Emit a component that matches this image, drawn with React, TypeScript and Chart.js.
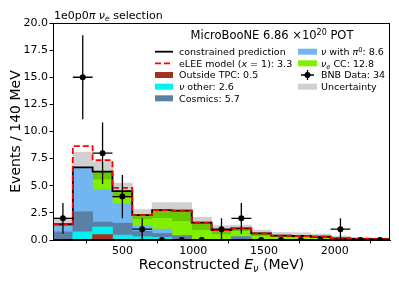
import React, { useEffect, useRef } from "react";
import { Chart, registerables } from "chart.js";
Chart.register(...registerables);

// ---------- data ----------
const binEdges = [10, 150, 290, 430, 570, 710, 850, 990, 1130, 1270, 1410, 1550, 1690, 1830, 1970, 2110, 2250, 2390];
const outsideTPC = [0, 0, 0.5, 0, 0, 0, 0, 0, 0, 0, 0, 0, 0, 0, 0, 0, 0];
const nuOther = [0, 0.75, 0.7, 0.45, 0.3, 0.25, 0, 0, 0, 0, 0, 0, 0, 0, 0, 0, 0];
const cosmics = [0.75, 1.85, 0.45, 1.1, 0.5, 0.35, 0.4, 0, 0, 0.3, 0, 0, 0, 0, 0, 0, 0];
const nuPi0 = [0.5, 4.1, 3.0, 1.8, 0.5, 0.4, 0, 0, 0, 0, 0, 0, 0, 0, 0, 0, 0];
const nueCCLow = [0, 0, 0.9, 0.5, 0.6, 1.0, 1.3, 0.9, 0.5, 0.5, 0.35, 0.25, 0.22, 0.18, 0.09, 0.06, 0.05];
const nueCCHigh = [0.1, 0, 0.75, 0.65, 0.4, 0.75, 1.0, 0.7, 0.42, 0.27, 0.26, 0.15, 0.15, 0.12, 0.06, 0.04, 0.03];
const constrainedPred = [1.45, 6.7, 6.3, 4.5, 2.3, 2.75, 2.7, 1.6, 0.92, 1.07, 0.61, 0.4, 0.37, 0.3, 0.15, 0.1, 0.08];
const eLEE = [0, 1.96, 1.05, 0.3, 0, 0, 0, 0, 0, 0, 0, 0, 0, 0, 0, 0, 0];
const uncertainty = [0.6, 1.4, 0.9, 0.75, 0.5, 0.7, 0.75, 0.5, 0.4, 0.3, 0.3, 0.3, 0.3, 0.25, 0.22, 0.15, 0.1];
const bnbData = [2, 15, 8, 4, 1, 0, 0, 0, 1, 2, 0, 0, 0, 0, 1, 0, 0];
const xTicks = [500, 1000, 1500, 2000];
const yTicks = [0, 2.5, 5, 7.5, 10, 12.5, 15, 17.5, 20];

const COLORS = {
  outside: "#a3331f",
  other: "#00f2f2",
  cosmic: "#5b80a5",
  pi0: "#72b5f3",
  nueLow: "#80f000",
  nueHigh: "#66c800",
  unc: "#d0d0d0",
};

const FAM = '"DejaVu Sans", sans-serif';

type Part = { t: string; it?: boolean; sub?: boolean; sup?: boolean };

function richWidth(ctx: CanvasRenderingContext2D, parts: Part[], size: number) {
  let w = 0;
  for (const p of parts) {
    const s = p.sub || p.sup ? size * 0.7 : size;
    ctx.font = `${p.it ? "italic " : ""}${s}px ${FAM}`;
    w += ctx.measureText(p.t).width;
  }
  return w;
}

function drawRich(ctx: CanvasRenderingContext2D, parts: Part[], x: number, y: number, size: number, align: "left" | "center") {
  const w = richWidth(ctx, parts, size);
  let cx = align === "center" ? x - w / 2 : x;
  ctx.textAlign = "left";
  ctx.textBaseline = "alphabetic";
  for (const p of parts) {
    const s = p.sub || p.sup ? size * 0.7 : size;
    ctx.font = `${p.it ? "italic " : ""}${s}px ${FAM}`;
    const dy = p.sub ? size * 0.2 : p.sup ? -size * 0.38 : 0;
    ctx.fillText(p.t, cx, y + dy);
    cx += ctx.measureText(p.t).width;
  }
}

export default function App() {
  const ref = useRef<HTMLCanvasElement | null>(null);

  useEffect(() => {
    const canvas = ref.current;
    if (!canvas) return;
    const n = bnbData.length;
    const centers = bnbData.map((_, i) => (binEdges[i] + binEdges[i + 1]) / 2);

    const comps = [
      { label: "Outside TPC", vals: outsideTPC, color: COLORS.outside },
      { label: "nu other", vals: nuOther, color: COLORS.other },
      { label: "Cosmics", vals: cosmics, color: COLORS.cosmic },
      { label: "nu pi0", vals: nuPi0, color: COLORS.pi0 },
      { label: "nue CC low", vals: nueCCLow, color: COLORS.nueLow },
      { label: "nue CC high", vals: nueCCHigh, color: COLORS.nueHigh },
    ];
    const cum = new Array(n).fill(0);
    const stackSets: any[] = comps.map((c) => {
      const data = c.vals.map((v, i) => {
        const lo = cum[i];
        cum[i] += v;
        return { x: centers[i], y: [lo, lo + v] };
      });
      return {
        type: "bar",
        label: c.label,
        data,
        backgroundColor: c.color,
        borderWidth: 0,
        grouped: false,
        barPercentage: 1,
        categoryPercentage: 1,
        order: 5,
      };
    });

    const uncSet: any = {
      type: "bar",
      label: "Uncertainty",
      data: constrainedPred.map((v, i) => ({ x: centers[i], y: [v - uncertainty[i], v + uncertainty[i]] })),
      backgroundColor: COLORS.unc,
      borderWidth: 0,
      grouped: false,
      barPercentage: 1,
      categoryPercentage: 1,
      order: 10,
    };

    const stepData = (vals: number[]) => {
      const pts = vals.map((v, i) => ({ x: binEdges[i], y: v }));
      pts.push({ x: binEdges[n], y: vals[n - 1] });
      return pts;
    };

    const constrainedSet: any = {
      type: "line",
      label: "constrained prediction",
      data: stepData(constrainedPred),
      stepped: "before",
      borderColor: "#000",
      borderWidth: 1.8,
      pointRadius: 0,
      fill: false,
      order: 2,
    };
    const eleeSet: any = {
      type: "line",
      label: "eLEE",
      data: stepData(constrainedPred.map((v, i) => v + eLEE[i])),
      stepped: "before",
      borderColor: "#ff0000",
      borderWidth: 1.8,
      borderDash: [6, 3],
      pointRadius: 0,
      fill: false,
      order: 1,
    };
    const dataSet: any = {
      type: "scatter",
      label: "BNB Data",
      data: bnbData.map((v, i) => ({ x: centers[i], y: v })),
      pointRadius: 3,
      pointBackgroundColor: "#000",
      pointBorderWidth: 0,
      clip: 0,
      order: 0,
    };

    const overlay = {
      id: "overlay",
      afterDatasetsDraw(chart: any) {
        const ctx: CanvasRenderingContext2D = chart.ctx;
        const xs = chart.scales.x;
        const ys = chart.scales.y;
        const a = chart.chartArea;
        ctx.save();
        ctx.beginPath();
        ctx.rect(a.left, a.top, a.right - a.left, a.bottom - a.top);
        ctx.clip();
        ctx.strokeStyle = "#000";
        ctx.lineWidth = 1.3;
        bnbData.forEach((v, i) => {
          const err = Math.sqrt(v);
          const py = ys.getPixelForValue(v);
          const px = xs.getPixelForValue(centers[i]);
          ctx.beginPath();
          ctx.moveTo(xs.getPixelForValue(binEdges[i]), py);
          ctx.lineTo(xs.getPixelForValue(binEdges[i + 1]), py);
          if (err > 0) {
            ctx.moveTo(px, ys.getPixelForValue(v - err));
            ctx.lineTo(px, ys.getPixelForValue(v + err));
          }
          ctx.stroke();
        });
        ctx.restore();
        // frame
        ctx.save();
        ctx.strokeStyle = "#000";
        ctx.lineWidth = 1;
        ctx.strokeRect(Math.round(a.left) + 0.5, Math.round(a.top) + 0.5, Math.round(a.right - a.left) - 1, Math.round(a.bottom - a.top) - 1);
        ctx.restore();
      },
      afterDraw(chart: any) {
        const ctx: CanvasRenderingContext2D = chart.ctx;
        const a = chart.chartArea;
        ctx.save();
        ctx.fillStyle = "#000";
        // title
        drawRich(ctx, [{ t: "1e0p0" }, { t: "π", it: true }, { t: " " }, { t: "ν", it: true }, { t: "e", it: true, sub: true }, { t: " selection" }], a.left + 1, 19, 11, "left");
        // x title
        drawRich(ctx, [{ t: "Reconstructed " }, { t: "E", it: true }, { t: "ν", it: true, sub: true }, { t: " (MeV)" }], (a.left + a.right) / 2, 269, 14, "center");
        // y title
        ctx.save();
        ctx.translate(20, (a.top + a.bottom) / 2);
        ctx.rotate(-Math.PI / 2);
        drawRich(ctx, [{ t: "Events / 140 MeV" }], 0, 0, 14, "center");
        ctx.restore();

        // legend (no frame)
        ctx.fillStyle = "#000";
        drawRich(ctx, [{ t: "MicroBooNE 6.86 ×10" }, { t: "20", sup: true }, { t: " POT" }], 272, 39, 11.5, "center");

        const fs = 9.5;
        const rows = [51.7, 63.3, 75, 86.7, 98.3];
        const lx0 = 155, lx1 = 173, ltx = 179;
        const rx0 = 298, rx1 = 317, rtx = 321;
        const patch = (x0: number, x1: number, yc: number, color: string) => {
          ctx.fillStyle = color;
          ctx.fillRect(x0, yc - 3, x1 - x0, 6);
        };
        // left column
        ctx.strokeStyle = "#000";
        ctx.lineWidth = 1.8;
        ctx.beginPath();
        ctx.moveTo(lx0, rows[0]);
        ctx.lineTo(lx1, rows[0]);
        ctx.stroke();
        ctx.strokeStyle = "#ff0000";
        ctx.setLineDash([6, 3]);
        ctx.beginPath();
        ctx.moveTo(lx0, rows[1]);
        ctx.lineTo(lx1, rows[1]);
        ctx.stroke();
        ctx.setLineDash([]);
        patch(lx0, lx1, rows[2], COLORS.outside);
        patch(lx0, lx1, rows[3], COLORS.other);
        patch(lx0, lx1, rows[4], COLORS.cosmic);
        ctx.fillStyle = "#000";
        const off = fs * 0.36;
        drawRich(ctx, [{ t: "constrained prediction" }], ltx, rows[0] + off, fs, "left");
        drawRich(ctx, [{ t: "eLEE model (" }, { t: "x", it: true }, { t: " = 1): 3.3" }], ltx, rows[1] + off, fs, "left");
        drawRich(ctx, [{ t: "Outside TPC: 0.5" }], ltx, rows[2] + off, fs, "left");
        drawRich(ctx, [{ t: "ν", it: true }, { t: " other: 2.6" }], ltx, rows[3] + off, fs, "left");
        drawRich(ctx, [{ t: "Cosmics: 5.7" }], ltx, rows[4] + off, fs, "left");
        // right column
        patch(rx0, rx1, rows[0], COLORS.pi0);
        patch(rx0, rx1, rows[1], COLORS.nueLow);
        // data marker
        ctx.strokeStyle = "#000";
        ctx.lineWidth = 1.3;
        const mx = (rx0 + rx1) / 2;
        ctx.beginPath();
        ctx.moveTo(rx0 + 3, rows[2]);
        ctx.lineTo(rx1 - 3, rows[2]);
        ctx.moveTo(mx, rows[2] - 5);
        ctx.lineTo(mx, rows[2] + 5);
        ctx.stroke();
        ctx.fillStyle = "#000";
        ctx.beginPath();
        ctx.arc(mx, rows[2], 3, 0, Math.PI * 2);
        ctx.fill();
        patch(rx0, rx1, rows[3], COLORS.unc);
        ctx.fillStyle = "#000";
        drawRich(ctx, [{ t: "ν", it: true }, { t: " with " }, { t: "π", it: true }, { t: "0", sup: true }, { t: ": 8.6" }], rtx, rows[0] + off, fs, "left");
        drawRich(ctx, [{ t: "ν", it: true }, { t: "e", it: true, sub: true }, { t: " CC: 12.8" }], rtx, rows[1] + off, fs, "left");
        drawRich(ctx, [{ t: "BNB Data: 34" }], rtx, rows[2] + off, fs, "left");
        drawRich(ctx, [{ t: "Uncertainty" }], rtx, rows[3] + off, fs, "left");
        ctx.restore();
      },
    };

    const tickFont = { family: FAM, size: 11 };
    const chart = new Chart(canvas, {
      type: "bar",
      data: { datasets: [uncSet, ...stackSets, constrainedSet, eleeSet, dataSet] },
      options: {
        responsive: false,
        animation: false,
        events: [],
        layout: { padding: { top: 23, right: 9, left: 0, bottom: 0 } },
        plugins: { legend: { display: false }, tooltip: { enabled: false } },
        scales: {
          x: {
            type: "linear",
            min: binEdges[0],
            max: binEdges[binEdges.length - 1],
            offset: false,
            grid: { display: true, drawOnChartArea: false, drawTicks: true, tickLength: 3.5, color: "#000", lineWidth: 1 },
            border: { display: true, color: "#000", width: 1 },
            ticks: { color: "#000", font: tickFont, padding: 1.5, maxRotation: 0, autoSkip: false, callback: (v: any) => String(v) },
            afterBuildTicks: (s: any) => {
              s.ticks = xTicks.map((v) => ({ value: v }));
            },
            afterFit: (s: any) => {
              s.height = 45;
            },
          },
          y: {
            type: "linear",
            min: 0,
            max: 20,
            grid: { display: true, drawOnChartArea: false, drawTicks: true, tickLength: 3.5, color: "#000", lineWidth: 1 },
            border: { display: true, color: "#000", width: 1 },
            ticks: { color: "#000", font: tickFont, padding: 1.5, callback: (v: any) => Number(v).toFixed(1) },
            afterBuildTicks: (s: any) => {
              s.ticks = yTicks.map((v) => ({ value: v }));
            },
            afterFit: (s: any) => {
              s.width = 53;
            },
          },
        },
      } as any,
      plugins: [overlay],
    });
    return () => chart.destroy();
  }, []);

  return (
    <div style={{ position: "fixed", left: 0, top: 0, width: 399, height: 285, background: "#fff" }}>
      <canvas ref={ref} width={399} height={285} style={{ width: 399, height: 285, display: "block" }} />
    </div>
  );
}
